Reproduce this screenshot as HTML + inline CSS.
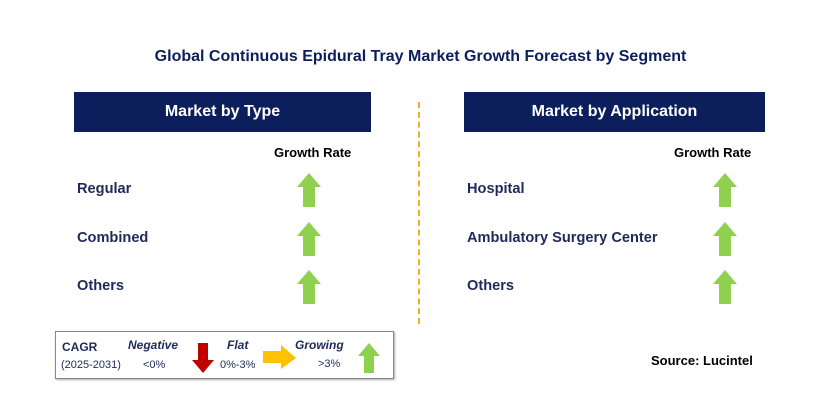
<!DOCTYPE html>
<html><head><meta charset="utf-8"><style>
body{margin:0;width:829px;height:405px;background:#fff;position:relative;font-family:"Liberation Sans",sans-serif;overflow:hidden}
.a{position:absolute}
.t{font-weight:bold;color:#1f2a5a}
.hdr{background:#0c1f5c;color:#fff;font-weight:bold;font-size:16px;text-align:center;line-height:40px;height:40px}
</style></head><body>
<div class="a t" style="left:0;width:841px;top:48px;text-align:center;font-size:16px;color:#0c1f5c">Global Continuous Epidural Tray Market Growth Forecast by Segment</div>
<div class="a hdr" style="left:74px;top:92px;width:297px">Market by Type</div>
<div class="a hdr" style="left:464px;top:92px;width:301px">Market by Application</div>
<div class="a" style="left:418px;top:102px;height:222px;border-left:2px dashed #f0b020"></div>
<div class="a t" style="left:274px;top:145px;font-size:13px;color:#000">Growth Rate</div>
<div class="a t" style="left:674px;top:145px;font-size:13px;color:#000">Growth Rate</div>
<div id="rows"></div>
<div class="a" style="left:55px;top:331px;width:337px;height:46px;border:1px solid #888;box-shadow:1px 1px 2px #aaa"></div>
<div class="a t" style="left:62px;top:340px;font-size:12px">CAGR</div>
<div class="a" style="left:61px;top:359px;font-size:11px;color:#1f2a5a">(2025-2031)</div>
<div class="a t" style="left:128px;top:338px;font-size:12px;font-style:italic">Negative</div>
<div class="a" style="left:143px;top:359px;font-size:11px;color:#1f2a5a">&lt;0%</div>
<div class="a t" style="left:227px;top:338px;font-size:12px;font-style:italic">Flat</div>
<div class="a" style="left:220px;top:359px;font-size:11px;color:#1f2a5a">0%-3%</div>
<div class="a t" style="left:295px;top:338px;font-size:12px;font-style:italic">Growing</div>
<div class="a" style="left:318px;top:358px;font-size:11px;color:#1f2a5a">&gt;3%</div>
<svg class="a" style="left:0;top:0" width="829" height="405">
<polygon points="198,343 208,343 208,360 214,360 203,373 192,360 198,360" fill="#c00000"/>
<polygon points="263,351 281,351 281,345 296,358 281,369 281,363 263,363" fill="#ffc000"/>
<polygon points="369,343 380,356 374,356 374,373 364,373 364,356 358,356" fill="#8fd14f"/>
</svg>
<div class="a t" style="left:651px;top:353px;font-size:13px;color:#000">Source: Lucintel</div>
<script>
const typeSegments=["Regular","Combined","Others"];
const appSegments=["Hospital","Ambulatory Surgery Center","Others"];
const rowTops=[190,239,287];
const rows=document.getElementById('rows');
function addCol(segs,lx,ax,pref){
 segs.forEach((s,i)=>{
  const d=document.createElement('div');
  d.className='a t';d.style.cssText=`left:${lx}px;top:${rowTops[i]-9}px;font-size:14.6px`;
  d.textContent=s;
  
  
  rows.appendChild(d);
  const ns='http://www.w3.org/2000/svg';
  const sv=document.createElementNS(ns,'svg');
  sv.setAttribute('width','26');sv.setAttribute('height','35');
  sv.setAttribute('class','a');sv.style.left=(ax-13)+'px';sv.style.top=(rowTops[i]-17)+'px';
  
  
  sv.innerHTML='<polygon points="13,0 25,14 19,14 19,34 7,34 7,14 1,14" fill="#8fd14f"/>';
  rows.appendChild(sv);
 });
}
addCol(typeSegments,77,309,'type');
addCol(appSegments,467,725,'application');
</script>
</body></html>
